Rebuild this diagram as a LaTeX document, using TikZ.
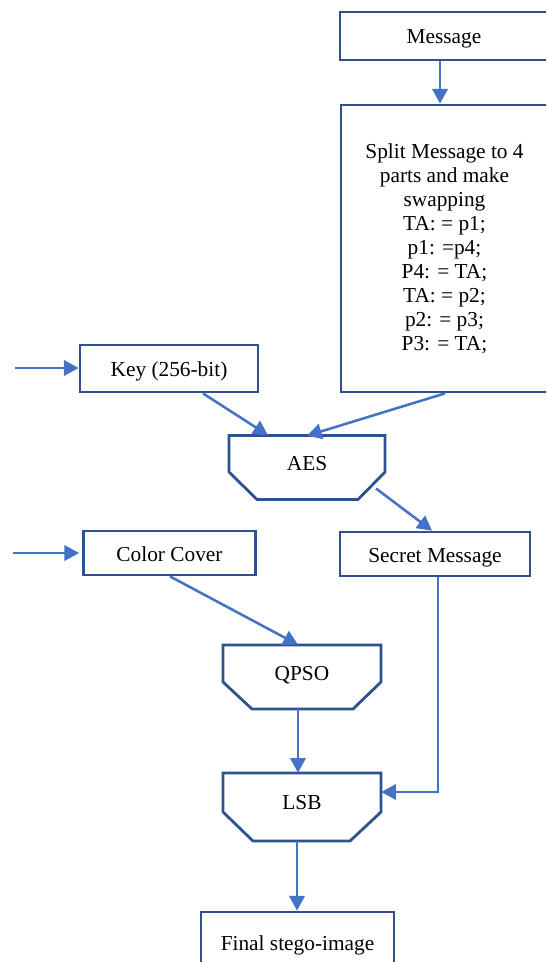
\documentclass[tikz,border=0pt]{standalone}
\usepackage{fontspec}
\setmainfont{Liberation Serif}
\usetikzlibrary{arrows.meta,calc}
\definecolor{bordc}{HTML}{2F528F}
\definecolor{arrc}{HTML}{4472C4}
\begin{document}
\begin{tikzpicture}[x=0.75pt,y=-0.75pt,
  every node/.style={font=\fontsize{16pt}{18pt}\selectfont, inner sep=0pt},
  lbl/.style={text height=14pt, text depth=2pt},
  boxn/.style={draw=bordc, line width=2.1pt, fill=white, rectangle},
  chamf/.style={rectangle, draw=none},
  chamfline/.style={draw=bordc, line width=2.1pt, fill=white, line join=miter},
  conn/.style={draw=arrc, line width=1.9pt, -{Triangle[length=11pt,width=11.5pt]}}]
\clip (0,0) rectangle (546,962);
\fill[white] (0,0) rectangle (546,962);

% boxes
\node[boxn, lbl, minimum width=208*0.75pt, minimum height=48*0.75pt] (msg) at (444,36) {Message};
\node[boxn, minimum width=207*0.75pt, minimum height=287*0.75pt, align=center] (split) at (444.5,248.5)
 {Split Message to 4\\parts and make\\swapping\\TA: = p1;\\p1: =p4;\\P4: = TA;\\TA: = p2;\\p2: = p3;\\P3: = TA;};
\node[boxn, lbl, minimum width=178*0.75pt, minimum height=47*0.75pt] (key) at (169,368.5) {Key (256-bit)};
\node[boxn, lbl, minimum width=190*0.75pt, minimum height=44*0.75pt] (secret) at (435,554) {Secret Message};
\node[boxn, lbl, minimum width=172*0.75pt, minimum height=44*0.75pt] (cover) at (169.5,553) {Color Cover};
\node[boxn, minimum width=193*0.75pt, minimum height=60*0.75pt] (final) at (297.5,942) {};
\node[lbl] at (297.5,942) {Final stego-image};

% chamfered process shapes
\node[chamf, minimum width=156*0.75pt, minimum height=64*0.75pt] (aes) at (307,467.5) {};
\draw[chamfline] (229,435.5) -- (385,435.5) -- (385,472) -- (358,499.5) -- (257,499.5) -- (229,472) -- cycle;
\node[lbl] at (307,462) {AES};

\node[chamf, minimum width=158*0.75pt, minimum height=64*0.75pt] (qpso) at (302,677) {};
\draw[chamfline] (223,645) -- (381,645) -- (381,682) -- (353,709) -- (252,709) -- (223,682) -- cycle;
\node[lbl] at (302,672) {QPSO};

\node[chamf, minimum width=158*0.75pt, minimum height=68*0.75pt] (lsb) at (302,807) {};
\draw[chamfline] (223,773) -- (381,773) -- (381,812) -- (350,841) -- (253,841) -- (223,812) -- cycle;
\node[lbl] at (302,801) {LSB};

% input stubs
\coordinate (kin) at (15,368);
\coordinate (cin) at (13,553);

% connectors
\draw[conn] ($(msg.south)+(-4,0)$) -- ($(split.north)+(-4.5,0)$);
\draw[conn] (kin) -- (key.west |- kin);
\draw[conn] (cin) -- ($(cover.west |- cin)+(-3,0)$);
\draw[conn] ($(key.south)+(34,0)$) -- ($(aes.north)+(-39,0)$);
\draw[conn] ($(split.south)+(0.5,0)$) -- ($(aes.north)+(0,0.5)$);
\draw[conn] (376,488.5) -- ($(secret.north)+(-3,0)$);
\draw[conn] ($(cover.south)+(0.5,0)$) -- ($(qpso.north)+(-4,0)$);
\draw[conn] ($(qpso.south)+(-4,0)$) -- ($(lsb.north)+(-4,0)$);
\draw[conn] ($(secret.south)+(3,0)$) |- (lsb.east |- 0,792);
\draw[conn] ($(lsb.south)+(-5,0)$) -- (final.north -| 297,0);
\end{tikzpicture}
\end{document}
